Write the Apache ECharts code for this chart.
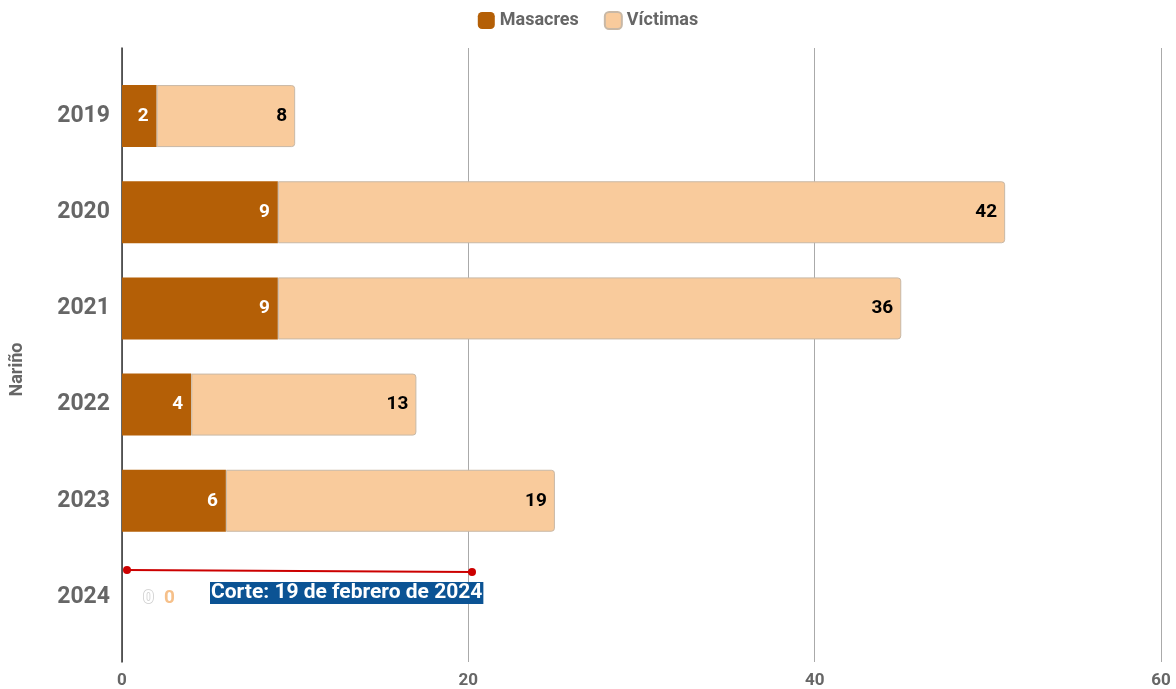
<!DOCTYPE html>
<html lang="es">
<head>
    <meta charset="UTF-8">
    <title>Masacres Nariño</title>
    <script src="https://cdn.jsdelivr.net/npm/echarts@6/dist/echarts.min.js"></script>
</head>
<body style="margin:0">
<div id="chart" style="width:1176px; height:689px"></div>
<script type="text/javascript">
    // datos
    var years = ['2019', '2020', '2021', '2022', '2023', '2024'];
    var masacres = [2, 9, 9, 4, 6, 0];
    var victimas = [8, 42, 36, 13, 19, 0];
    var xTicks = [0, 20, 40, 60];

    var myChart = echarts.init(document.getElementById('chart'));

    // los ceros se dibujan a la derecha del eje
    function withZeroLabels(arr, zeroLabel) {
        return arr.map(function (v) {
            if (v === 0) return { value: v, label: zeroLabel, itemStyle: { borderWidth: 0 } };
            return v;
        });
    }

    myChart.setOption({
        backgroundColor: '#fff',
        textStyle: { fontFamily: 'Roboto' },
        legend: {
            top: 6,
            left: 'center',
            itemWidth: 17,
            itemHeight: 17,
            itemGap: 25,
            textStyle: { color: '#666', fontSize: 18, fontWeight: 'bold' },
            data: ['Masacres', 'Víctimas']
        },
        grid: [
            { left: 122, right: 15, top: 68, bottom: 44 },
            { left: 122, right: 15, top: 48, bottom: 26 }
        ],
        xAxis: [
            { gridIndex: 0, type: 'value', min: 0, max: 60, interval: 20, show: false },
            {
                gridIndex: 1, type: 'value', min: xTicks[0], max: xTicks[xTicks.length - 1], interval: 20,
                axisLine: { show: false },
                axisTick: { show: false },
                axisLabel: { color: '#666', fontSize: 17, fontWeight: 'bold', margin: 10 },
                splitLine: { lineStyle: { color: '#aaa', width: 1 } }
            }
        ],
        yAxis: [
            {
                gridIndex: 0, type: 'category', inverse: true, data: years,
                axisLine: { show: false },
                axisTick: { show: false },
                axisLabel: { color: '#666', fontSize: 23, fontWeight: 'bold', margin: 12 },
                name: 'Nariño',
                nameLocation: 'middle',
                nameGap: 96,
                nameRotate: 90,
                nameTextStyle: { color: '#666', fontSize: 18, fontWeight: 'bold', padding: [0, 26, 0, 0] }
            },
            {
                gridIndex: 1, type: 'value', min: 0, max: 1,
                axisLine: { show: true, lineStyle: { color: '#333', width: 1.5 } },
                axisTick: { show: false },
                axisLabel: { show: false },
                splitLine: { show: false }
            }
        ],
        series: [
            {
                name: 'Masacres',
                type: 'bar',
                stack: 'total',
                barWidth: 62,
                itemStyle: { color: '#b45f06' },
                label: {
                    show: true, position: 'insideRight', distance: 8,
                    color: '#fff', fontSize: 19, fontWeight: 'bold'
                },
                data: withZeroLabels(masacres, {
                    position: 'right', distance: 0, offset: [21, 1],
                    color: '#fff', textBorderColor: '#ccc', textBorderWidth: 1.5
                })
            },
            {
                name: 'Víctimas',
                type: 'bar',
                stack: 'total',
                barWidth: 62,
                itemStyle: { color: '#f9cb9c', borderColor: '#c8b8a6', borderWidth: 1, borderRadius: [0, 3, 3, 0] },
                label: {
                    show: true, position: 'insideRight', distance: 8,
                    color: '#000', fontSize: 19, fontWeight: 'bold'
                },
                data: withZeroLabels(victimas, {
                    position: 'right', distance: 0, offset: [42, 1],
                    color: '#f6c08a'
                })
            }
        ],
        graphic: [
            {
                type: 'line', z: 100,
                shape: { x1: 127, y1: 570, x2: 472, y2: 572 },
                style: { stroke: '#cc0000', lineWidth: 2 }
            },
            { type: 'circle', z: 101, shape: { cx: 127, cy: 570, r: 4 }, style: { fill: '#cc0000' } },
            { type: 'circle', z: 101, shape: { cx: 472, cy: 572, r: 4 }, style: { fill: '#cc0000' } },
            {
                type: 'text', z: 102, left: 210, top: 582,
                style: {
                    text: 'Corte: 19 de febrero de 2024',
                    fill: '#fff',
                    font: 'bold 21px Roboto',
                    lineHeight: 22,
                    backgroundColor: '#0b5394',
                    padding: [0, 1, 0, 1]
                }
            }
        ]
    });
</script>
</body>
</html>
